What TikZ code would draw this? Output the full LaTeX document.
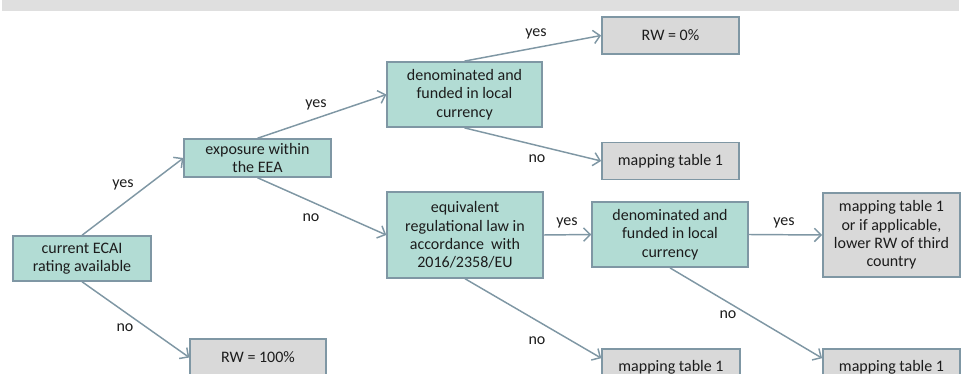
\documentclass[tikz,border=0pt]{standalone}
\usepackage{fontspec}
\setmainfont{Carlito}
\usepackage{tikz}
\usetikzlibrary{arrows.meta}
\definecolor{boxteal}{HTML}{B2DCD4}
\definecolor{boxgray}{HTML}{D9D9D9}
\definecolor{edgeblue}{HTML}{7F97A4}
\definecolor{bandgray}{HTML}{DFDFDF}
\definecolor{txtgray}{HTML}{1C1C1C}

\begin{document}
\begin{tikzpicture}[x=0.75pt,y=-0.75pt,
  every node/.style={font=\fontsize{12}{13.8}\selectfont,text=txtgray},
  decision/.style={rectangle,draw=edgeblue,line width=1.1pt,fill=boxteal,align=center,inner sep=0pt},
  result/.style={rectangle,draw=edgeblue,line width=1.1pt,fill=boxgray,align=center,inner sep=0pt},
  arr/.style={draw=edgeblue,line width=1.1pt,-{Straight Barb[length=5pt,width=10pt]}}]
\path[use as bounding box,clip] (0,0) rectangle (965,374);
\fill[bandgray] (2,0) rectangle (959,11.5);
\node[decision,minimum width=103.5pt,minimum height=33.75pt] (ecai) at (82,258.5) {current ECAI\\rating available};
\node[decision,minimum width=110pt,minimum height=28.5pt] (eea) at (257.5,158) {exposure within\\the EEA};
\node[decision,minimum width=116pt,minimum height=49pt] (curtop) at (464.5,94.5) {denominated and\\funded in local\\currency};
\node[result,minimum width=103pt,minimum height=27.5pt] (rwzero) at (670.5,35.5) {RW = 0\%};
\node[result,minimum width=103pt,minimum height=27.5pt] (maptop) at (670.5,161) {mapping table 1};
\node[decision,minimum width=117pt,minimum height=64.5pt] (equiv) at (465,235) {equivalent\\regulational law in\\accordance\ \ with\\2016/2358/EU};
\node[decision,minimum width=117pt,minimum height=49pt] (curmid) at (670,234.5) {denominated and\\funded in local\\currency};
\node[result,minimum width=103pt,minimum height=63pt] (third) at (891.5,235) {mapping table 1\\or if applicable,\\lower RW of third\\country};
\node[result,minimum width=102pt,minimum height=27.5pt] (rwfull) at (258,357.5) {RW = 100\%};
\node[result,minimum width=103.5pt,minimum height=27.5pt] (mapmid) at (671,367.5) {mapping table 1};
\node[result,minimum width=103pt,minimum height=27.5pt] (mapright) at (891.5,367.5) {mapping table 1};
\draw[arr] (ecai.north) -- (eea.west);
\draw[arr] (ecai.south) -- (rwfull.west);
\draw[arr] (eea.north) -- (curtop.west);
\draw[arr] (eea.south) -- (equiv.west);
\draw[arr] (curtop.north) -- (rwzero.west);
\draw[arr] (curtop.south) -- (maptop.west);
\draw[arr] (equiv.east) -- (curmid.west);
\draw[arr] (equiv.south) -- ([yshift=7pt]mapmid.west);
\draw[arr] (curmid.east) -- (third.west);
\draw[arr] (curmid.south) -- ([yshift=7pt]mapright.west);
\node (ecaiyes) at (123,185) {yes};
\node (ecaino) at (125,328) {no};
\node (eeayes) at (316,105) {yes};
\node (eeano) at (311,218) {no};
\node (curtopyes) at (536,34) {yes};
\node (curtopno) at (537,159) {no};
\node (equivyes) at (567,223) {yes};
\node (equivno) at (537,341) {no};
\node (curmidyes) at (784,223) {yes};
\node (curmidno) at (728,315) {no};
\end{tikzpicture}
\end{document}
